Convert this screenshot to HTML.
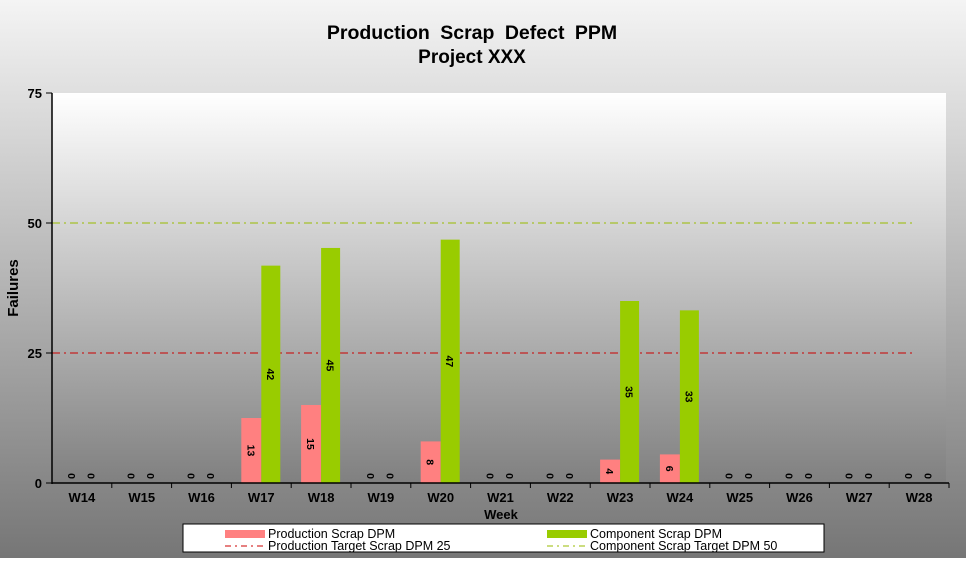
<!DOCTYPE html>
<html><head><style>
body{margin:0;width:966px;height:558px;overflow:hidden;font-family:"Liberation Sans",Arial,sans-serif;}
</style></head><body>
<svg width="966" height="558" xmlns="http://www.w3.org/2000/svg" font-family="Liberation Sans, Arial, sans-serif">
<defs>
<linearGradient id="bg" x1="0" y1="0" x2="0" y2="1"><stop offset="0" stop-color="#f4f4f4"/><stop offset="1" stop-color="#767676"/></linearGradient>
<linearGradient id="pl" x1="0" y1="0" x2="0" y2="1"><stop offset="0" stop-color="#ffffff"/><stop offset="1" stop-color="#808080"/></linearGradient>
</defs>
<rect width="966" height="558" fill="url(#bg)"/>
<rect x="52" y="93" width="894" height="390" fill="url(#pl)"/>
<text x="472" y="39" text-anchor="middle" font-weight="bold" font-size="19.5" word-spacing="5">Production Scrap Defect PPM</text>
<text x="472" y="63" text-anchor="middle" font-weight="bold" font-size="19">Project XXX</text>
<g font-weight="bold" font-size="13" text-anchor="end">
<text x="42" y="98">75</text><text x="42" y="228">50</text><text x="42" y="358">25</text><text x="42" y="488">0</text>
</g>
<text transform="translate(18,288) rotate(-90)" text-anchor="middle" font-weight="bold" font-size="15">Failures</text>
<line x1="52" y1="223" x2="916" y2="223" stroke="#99bb00" stroke-width="1" stroke-dasharray="8,4,2,4"/>
<line x1="52" y1="353" x2="916" y2="353" stroke="#cc0000" stroke-width="1" stroke-dasharray="8,4,2,4"/>
<g id="bars"></g>
<line x1="52" y1="93" x2="52" y2="484" stroke="#000" stroke-width="1.5"/>
<line x1="46" y1="93" x2="52" y2="93" stroke="#000"/>
<line x1="46" y1="223" x2="52" y2="223" stroke="#000"/>
<line x1="46" y1="353" x2="52" y2="353" stroke="#000"/>
<line x1="46" y1="483" x2="52" y2="483" stroke="#000"/>
<line x1="52" y1="483" x2="949" y2="483" stroke="#000" stroke-width="1.5"/>
<g id="xl"></g>
<text x="501" y="519" text-anchor="middle" font-weight="bold" font-size="13">Week</text>
<rect x="183" y="524" width="641" height="28" fill="#fff" stroke="#000"/>
<rect x="225" y="530" width="40" height="8" fill="#ff8080"/>
<text x="268" y="538" font-size="12.5">Production Scrap DPM</text>
<line x1="225" y1="546" x2="265" y2="546" stroke="#cc0000" stroke-dasharray="6,4,2,4"/>
<text x="268" y="550" font-size="12.5">Production Target Scrap DPM 25</text>
<rect x="547" y="530" width="40" height="8" fill="#99cc00"/>
<text x="590" y="538" font-size="12.5">Component Scrap DPM</text>
<line x1="547" y1="546" x2="587" y2="546" stroke="#99bb00" stroke-dasharray="6,4,2,4"/>
<text x="590" y="550" font-size="12.5">Component Scrap Target DPM 50</text>
</svg>
<script>
var p=[0,0,0,12.5,15,0,8,0,0,4.5,5.5,0,0,0,0],pl=[0,0,0,13,15,0,8,0,0,4,6,0,0,0,0];
var g=[0,0,0,41.8,45.2,0,46.8,0,0,35,33.2,0,0,0,0],gl=[0,0,0,42,45,0,47,0,0,35,33,0,0,0,0];
var s="",x="";
for(var i=0;i<15;i++){var c=52+59.8*(i+0.5);
 var hp=p[i]*5.2,hg=g[i]*5.2;
 if(hp>0)s+='<rect x="'+(c-20)+'" y="'+(483-hp)+'" width="20" height="'+hp+'" fill="#ff8080"/>';
 if(hg>0)s+='<rect x="'+c+'" y="'+(483-hg)+'" width="19" height="'+hg+'" fill="#99cc00"/>';
 var yp=hp>0?483-hp/2:476, yg=hg>0?483-hg/2:476;
 s+='<text transform="translate('+(c-10)+','+yp+') rotate(90)" text-anchor="middle" dy="4" font-size="10.5" font-weight="bold">'+pl[i]+'</text>';
 s+='<text transform="translate('+(c+9.5)+','+yg+') rotate(90)" text-anchor="middle" dy="4" font-size="10.5" font-weight="bold">'+gl[i]+'</text>';
 x+='<line x1="'+(52+59.8*(i+1))+'" y1="483" x2="'+(52+59.8*(i+1))+'" y2="488" stroke="#000"/>';
 x+='<text x="'+c+'" y="502" text-anchor="middle" font-weight="bold" font-size="13">W'+(14+i)+'</text>';
}
document.getElementById("bars").innerHTML=s;document.getElementById("xl").innerHTML=x;
</script>
</body></html>
